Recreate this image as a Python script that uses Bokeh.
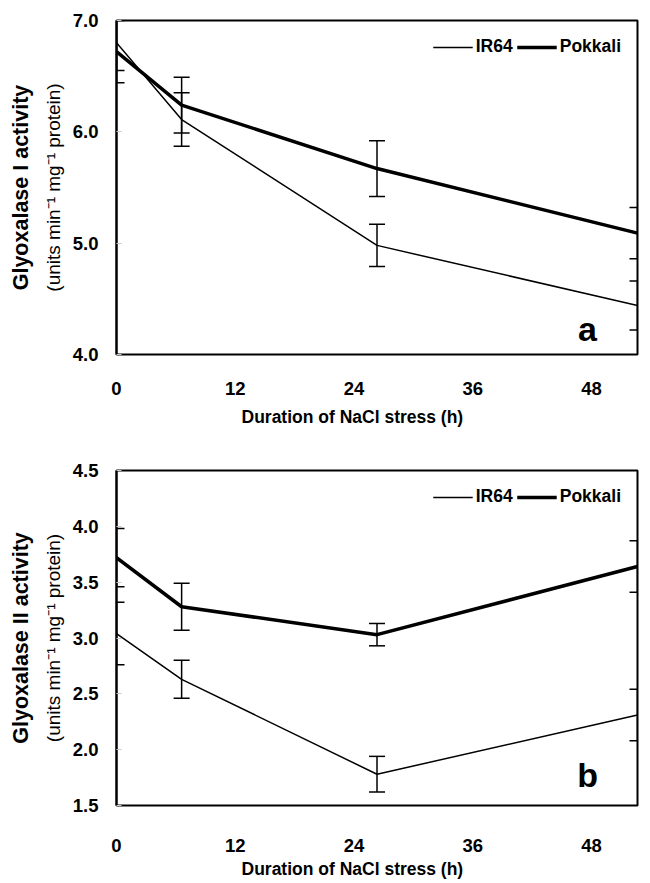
from bokeh.plotting import figure
from bokeh.models import (ColumnDataSource, Whisker, TeeHead, Range1d, FixedTicker,
                          Legend, LegendItem, Label, Title, NumeralTickFormatter, LinearAxis)
from bokeh.layouts import column
from bokeh.embed import file_html
from bokeh.resources import INLINE

# ---------------- data ----------------
hours = [0, 6, 24, 48]

glo1_ir64 = [6.80, 6.11, 4.98, 4.44]
glo1_ir64_err = [0.25, 0.24, 0.19, 0.22]
glo1_pokkali = [6.72, 6.24, 5.67, 5.09]
glo1_pokkali_err = [0.28, 0.25, 0.25, 0.23]

glo2_ir64 = [3.04, 2.63, 1.78, 2.31]
glo2_ir64_err = [0.28, 0.17, 0.16, 0.23]
glo2_pokkali = [3.72, 3.28, 3.03, 3.64]
glo2_pokkali_err = [0.26, 0.21, 0.10, 0.23]

x_ticks = [0, 12, 24, 36, 48]
y1_ticks = [4.0, 5.0, 6.0, 7.0]
y2_ticks = [1.5, 2.0, 2.5, 3.0, 3.5, 4.0, 4.5]

series_names = ["IR64", "Pokkali"]
x_title = "Duration of NaCl stress (h)"
FONT = "Liberation Sans"


def make_panel(ir, ir_err, pk, pk_err, yr, yticks, ytitle, letter, letter_y,
               height, top, bottom, tick_standoff, title_standoff):
    p = figure(width=650, height=height, output_backend="svg", toolbar_location=None,
               x_range=Range1d(0, 48), y_range=Range1d(*yr),
               min_border_left=116, min_border_right=13,
               min_border_top=top, min_border_bottom=bottom)
    p.background_fill_color = "white"
    p.border_fill_color = "white"
    p.outline_line_color = "black"
    p.outline_line_width = 2
    p.xgrid.visible = False
    p.ygrid.visible = False

    # main x axis: carries the scale only; labels drawn by a label axis below
    p.xaxis[0].visible = False

    yax = p.yaxis[0]
    yax.axis_line_width = 2
    yax.axis_line_color = "black"
    yax.major_tick_line_color = "#c8c8c8"
    yax.major_tick_in = 5
    yax.major_tick_out = 0
    yax.minor_tick_line_color = None
    yax.major_label_text_font = FONT
    yax.major_label_text_font_style = "bold"
    yax.major_label_text_font_size = "18.5px"
    yax.major_label_text_color = "black"
    yax.ticker = FixedTicker(ticks=yticks)
    yax.formatter = NumeralTickFormatter(format="0.0")
    yax.major_label_standoff = 18

    # tick-label axis (text layer in the reference is slightly narrower than the frame)
    p.extra_x_ranges = {"lab": Range1d(0, 52.65)}
    lab = LinearAxis(x_range_name="lab", ticker=FixedTicker(ticks=x_ticks),
                     axis_line_color=None, major_tick_line_color=None,
                     minor_tick_line_color=None, major_tick_out=0, major_tick_in=0,
                     major_label_text_font=FONT, major_label_text_font_style="bold",
                     major_label_text_font_size="18.5px", major_label_text_color="black",
                     major_label_standoff=tick_standoff)
    p.add_layout(lab, "below")
    p.add_layout(Title(text=x_title, align="left", offset=125, text_font=FONT,
                       text_font_style="bold", text_font_size="17.5px",
                       text_color="black", standoff=title_standoff), "below")

    # y titles as two separate lines (units inner, bold name outer)
    units = Title(text="(units min\u207b\u00b9 mg\u207b\u00b9 protein)", align="center",
                  text_font=FONT, text_font_style="normal", text_font_size="19px",
                  text_color="black", standoff=12)
    name = Title(text=ytitle, align="center", text_font=FONT, text_font_style="bold",
                 text_font_size="21.5px", text_color="black", standoff=4)
    p.add_layout(units, "left")
    p.add_layout(name, "left")

    src_ir = ColumnDataSource(dict(x=hours, y=ir,
                                   lo=[v - e for v, e in zip(ir, ir_err)],
                                   hi=[v + e for v, e in zip(ir, ir_err)]))
    src_pk = ColumnDataSource(dict(x=hours, y=pk,
                                   lo=[v - e for v, e in zip(pk, pk_err)],
                                   hi=[v + e for v, e in zip(pk, pk_err)]))

    r_ir = p.line("x", "y", source=src_ir, line_color="black", line_width=1.5)
    r_pk = p.line("x", "y", source=src_pk, line_color="black", line_width=3.5)

    for src in (src_ir, src_pk):
        w = Whisker(source=src, base="x", lower="lo", upper="hi",
                    line_color="black", line_width=1.5,
                    lower_head=TeeHead(size=16, line_color="black", line_width=1.5),
                    upper_head=TeeHead(size=16, line_color="black", line_width=1.5))
        p.add_layout(w)

    legend = Legend(items=[LegendItem(label=series_names[0], renderers=[r_ir]),
                           LegendItem(label=series_names[1], renderers=[r_pk])],
                    orientation="horizontal", location="top_right",
                    glyph_width=40, glyph_height=14, label_standoff=3, spacing=4,
                    padding=0, margin=16, border_line_color=None,
                    background_fill_alpha=0,
                    label_text_font=FONT, label_text_font_style="bold",
                    label_text_font_size="17.5px", label_text_color="black")
    p.add_layout(legend)

    p.add_layout(Label(x=43.4, y=letter_y, text=letter, text_font=FONT,
                       text_font_style="bold", text_font_size="34px",
                       text_align="center", text_baseline="middle", text_color="black"))
    return p


p1 = make_panel(glo1_ir64, glo1_ir64_err, glo1_pokkali, glo1_pokkali_err,
                (4.0, 7.0), y1_ticks, "Glyoxalase I activity", "a", 4.23,
                height=437, top=20, bottom=83, tick_standoff=27, title_standoff=15)
p2 = make_panel(glo2_ir64, glo2_ir64_err, glo2_pokkali, glo2_pokkali_err,
                (1.5, 4.5), y2_ticks, "Glyoxalase II activity", "b", 1.77,
                height=446, top=33, bottom=78, tick_standoff=33, title_standoff=4)

layout = column(p1, p2, spacing=0)
open("out.html", "w").write(file_html(layout, INLINE))
